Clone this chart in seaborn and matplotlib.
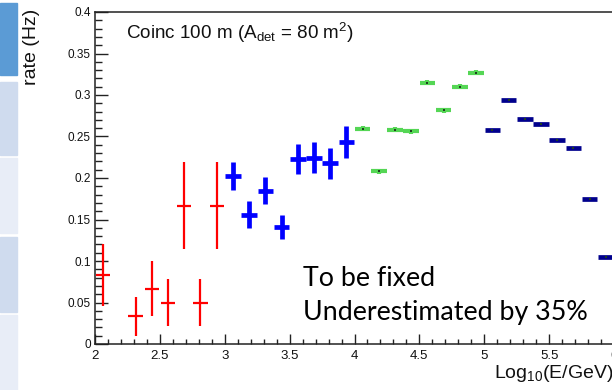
import matplotlib
matplotlib.use("Agg")
import matplotlib.pyplot as plt
import matplotlib.patches as mpatches
from matplotlib.ticker import MultipleLocator, FuncFormatter
import seaborn as sns
import pandas as pd

# ---------------- data ----------------
red_x = [2.0625, 2.3125, 2.4375, 2.5625, 2.6875, 2.8125, 2.9375]
red_y = [0.0833, 0.0333, 0.0667, 0.05, 0.1667, 0.05, 0.1667]
red_yerr = [0.0373, 0.0236, 0.0333, 0.0289, 0.0527, 0.0289, 0.0527]

blue_x = [3.0625, 3.1875, 3.3125, 3.4375, 3.5625, 3.6875, 3.8125, 3.9375]
blue_y = [0.2024, 0.1558, 0.1847, 0.1406, 0.2229, 0.2245, 0.2177, 0.2437]
blue_yerr = [0.017, 0.016, 0.0165, 0.0145, 0.018, 0.019, 0.0185, 0.0195]

green_x = [4.0625, 4.1875, 4.3125, 4.4375, 4.5625, 4.6875, 4.8125, 4.9375]
green_y = [0.2594, 0.2081, 0.2582, 0.2563, 0.3145, 0.2819, 0.3100, 0.3269]
green_yerr = [0.003, 0.003, 0.003, 0.003, 0.003, 0.003, 0.003, 0.003]

navy_x = [5.0625, 5.1875, 5.3125, 5.4375, 5.5625, 5.6875, 5.8125, 5.9375]
navy_y = [0.2582, 0.2943, 0.2707, 0.2651, 0.2458, 0.2357, 0.1743, 0.1048]
navy_yerr = [0.001, 0.001, 0.001, 0.001, 0.001, 0.001, 0.001, 0.001]

series_names = ["red", "blue", "green", "navy"]
series_colors = {"red": "#ff0000", "blue": "#0000ff", "green": "#55d655", "navy": "#00008c"}

title_text = "Coinc 100 m (A$_{\\mathregular{det}}$ = 80 m$^{\\mathregular{2}}$)"
ylabel_text = "rate (Hz)"
xlabel_text = "Log$_{\\mathregular{10}}$(E/GeV)"
note_lines = ["To be fixed", "Underestimated by 35%"]

# ---------------- style ----------------
sns.set_style("white")
plt.rcParams["font.family"] = ["Liberation Sans", "DejaVu Sans"]
plt.rcParams["mathtext.fontset"] = "custom"
plt.rcParams["mathtext.rm"] = "Liberation Sans"
plt.rcParams["mathtext.it"] = "Liberation Sans"
plt.rcParams["mathtext.default"] = "regular"

W, H = 612, 390
fig = plt.figure(figsize=(W / 100, H / 100), dpi=100)

# slide sidebar
side = [(3, 75, "#5b9bd5"), (82, 155, "#cfdbee"), (158, 233, "#e8edf7"),
        (237, 312, "#cfdbee"), (315, 392, "#e8edf7")]
for y0, y1, c in side:
    fig.patches.append(mpatches.Rectangle((0, 1 - y1 / H), 17 / W, (y1 - y0) / H,
                                          transform=fig.transFigure, color=c, zorder=0))

ax = fig.add_axes([95 / W, 1 - 344 / H, (614 - 95) / W, (344 - 12) / H])

df = pd.DataFrame({
    "logE": red_x + blue_x + green_x + navy_x,
    "rate": red_y + blue_y + green_y + navy_y,
    "yerr": red_yerr + blue_yerr + green_yerr + navy_yerr,
    "series": ["red"] * len(red_x) + ["blue"] * len(blue_x)
              + ["green"] * len(green_x) + ["navy"] * len(navy_x),
})

xerr_map = {"red": 0.055, "blue": 0.06, "green": 0.06, "navy": 0.06}
lw_map = {"red": 1.6, "blue": 3.4, "green": 3.0, "navy": 3.4}
for name in series_names:
    d = df[df.series == name]
    ax.errorbar(d.logE, d.rate, xerr=xerr_map[name], yerr=d.yerr, fmt="none",
                ecolor=series_colors[name], elinewidth=lw_map[name], capsize=0, zorder=3)

# tiny centre markers for green / navy (ROOT-like)
dm = df[df.series.isin(["green", "navy"])]
sns.scatterplot(data=dm, x="logE", y="rate", color="#204020", s=1.5, marker="s",
                linewidth=0, ax=ax, legend=False, zorder=4)

ax.set_xlim(2, 6)
ax.set_ylim(0, 0.4)
ax.set_xlabel("")
ax.set_ylabel("")

for s in ["left", "bottom", "top"]:
    ax.spines[s].set_color("#222222")
    ax.spines[s].set_linewidth(1.1)
ax.spines["right"].set_visible(False)

ax.xaxis.set_major_locator(MultipleLocator(0.5))
ax.xaxis.set_minor_locator(MultipleLocator(0.1))
ax.yaxis.set_major_locator(MultipleLocator(0.05))
ax.yaxis.set_minor_locator(MultipleLocator(0.01))
fmt = FuncFormatter(lambda v, p: "%g" % round(v, 3))
ax.xaxis.set_major_formatter(fmt)
ax.yaxis.set_major_formatter(fmt)

ax.tick_params(axis="x", which="major", direction="in", length=7.2, width=1.0,
               labelsize=9.5, pad=4, bottom=True, top=False, colors="#222222",
               labelcolor="#111111")
ax.tick_params(axis="x", which="minor", direction="in", length=3.6, width=1.0,
               bottom=True, top=False, colors="#222222")
ax.tick_params(axis="y", which="major", direction="in", length=9.4, width=1.0,
               labelsize=8.5, pad=3, left=True, right=False, colors="#222222",
               labelcolor="#111111")
ax.tick_params(axis="y", which="minor", direction="in", length=5.0, width=1.0,
               left=True, right=False, colors="#222222")

# texts
fig.text(126 / W, 1 - 39 / H, title_text, fontsize=13.6, ha="left", va="baseline", color="#111111")
fig.text(32 / W, 1 - 9 / H, ylabel_text, fontsize=14, rotation=90, ha="center", va="top",
         color="#111111")
fig.text(614 / W, 1 - 378 / H, xlabel_text, fontsize=14, ha="right", va="baseline",
         color="#111111")
fig.text(303 / W, 1 - 286 / H, note_lines[0], fontsize=19.3, family=["Lato", "DejaVu Sans"],
         ha="left", va="baseline", color="black")
fig.text(303 / W, 1 - 320 / H, note_lines[1], fontsize=19.3, family=["Lato", "DejaVu Sans"],
         ha="left", va="baseline", color="black")

fig.savefig("out.png", dpi=100)
